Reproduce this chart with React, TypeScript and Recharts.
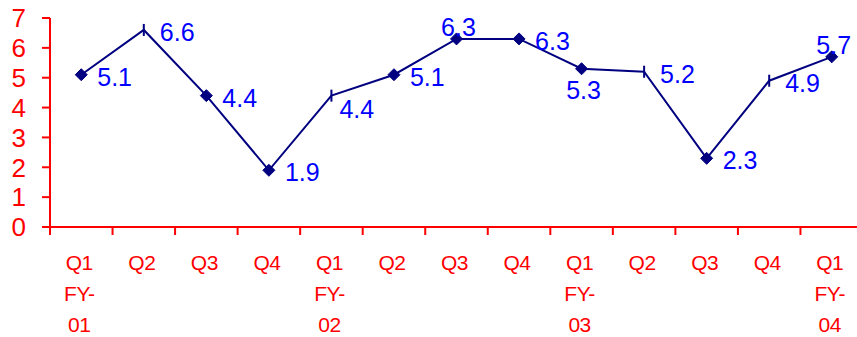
import React from "react";
import { LineChart, Line, XAxis, YAxis } from "recharts";

const quarters = ["Q1", "Q2", "Q3", "Q4", "Q1", "Q2", "Q3", "Q4", "Q1", "Q2", "Q3", "Q4", "Q1"];
const fiscalYears = ["01", "", "", "", "02", "", "", "", "03", "", "", "", "04"];
const values = [5.1, 6.6, 4.4, 1.9, 4.4, 5.1, 6.3, 6.3, 5.3, 5.2, 2.3, 4.9, 5.7];
const yTicks = [0, 1, 2, 3, 4, 5, 6, 7];

const data = quarters.map((q, i) => ({ q, fy: fiscalYears[i], value: values[i] }));

// points drawn with a short vertical dash instead of a diamond
const dashMarked = [1, 4, 9, 11];
// where each value label sits relative to its point
const labelPlacement = [
  "right", "right", "right", "right", "lowRight", "right", "above",
  "right", "below", "right", "right", "right", "above",
];

const RED = "#ff0000";
const NAVY = "#000080";
const BLUE = "#0000ff";
const FONT = "'Liberation Sans', Arial, sans-serif";

const CHART_W = 863;
const CHART_H = 337;
const LEFT = 50;
const BAND = (CHART_W - LEFT) / quarters.length;

const renderDot = (props: any) => {
  const { cx, cy, index } = props;
  if (dashMarked.includes(index)) {
    return <line key={`d${index}`} x1={cx} x2={cx} y1={cy - 6} y2={cy + 6} stroke={NAVY} strokeWidth={2} />;
  }
  const s = 6;
  return (
    <polygon
      key={`d${index}`}
      points={`${cx},${cy - s} ${cx + s},${cy} ${cx},${cy + s} ${cx - s},${cy}`}
      fill={NAVY}
      stroke={NAVY}
      strokeWidth={1}
    />
  );
};

const renderLabel = (props: any) => {
  const { x, y, value, index } = props;
  const place = labelPlacement[index];
  let tx = x + 16;
  let ty = y + 2;
  let anchor: "start" | "middle" = "start";
  if (place === "above") {
    tx = x + 2;
    ty = y - 12;
    anchor = "middle";
  } else if (place === "below") {
    tx = x + 2;
    ty = y + 21;
    anchor = "middle";
  } else if (place === "lowRight") {
    tx = x + 8;
    ty = y + 13;
  }
  return (
    <text
      key={`l${index}`}
      x={tx}
      y={ty}
      textAnchor={anchor}
      dominantBaseline="central"
      fill={BLUE}
      fontSize={25}
      fontFamily={FONT}
    >
      {value.toFixed(1)}
    </text>
  );
};

const QuarterTick = (props: any) => {
  const { x, y, payload, index } = props;
  const fy = fiscalYears[index];
  const lines = fy ? [payload.value, "FY-", fy] : [payload.value];
  const edge = x - BAND / 2;
  return (
    <g>
      <line x1={edge} x2={edge} y1={y} y2={y + 8} stroke={RED} strokeWidth={2} />
      {lines.map((t: string, i: number) => (
        <text
          key={i}
          x={x - 2}
          y={y + 35 + i * 31}
          textAnchor="middle"
          dominantBaseline="central"
          fill={RED}
          fontSize={21}
          letterSpacing={-0.5}
          fontFamily={FONT}
        >
          {t}
        </text>
      ))}
    </g>
  );
};

export default function App() {
  return (
    <div
      style={{
        position: "fixed",
        left: 0,
        top: 0,
        width: 857,
        height: 337,
        overflow: "hidden",
        background: "#fff",
      }}
    >
      <LineChart
        width={CHART_W}
        height={CHART_H}
        data={data}
        margin={{ top: 18, right: 0, bottom: 0, left: 0 }}
      >
        <XAxis
          dataKey="q"
          interval={0}
          height={110}
          padding={{ left: BAND / 2, right: BAND / 2 }}
          tickSize={0}
          tickMargin={0}
          tickLine={false}
          axisLine={{ stroke: RED, strokeWidth: 2 }}
          tick={<QuarterTick />}
        />
        <YAxis
          type="number"
          domain={[0, 7]}
          ticks={yTicks}
          interval={0}
          width={LEFT}
          tickSize={8}
          tickMargin={16}
          axisLine={{ stroke: RED, strokeWidth: 2 }}
          tickLine={{ stroke: RED, strokeWidth: 2 }}
          tick={{ fill: RED, fontSize: 26, fontFamily: FONT }}
        />
        <Line
          type="linear"
          dataKey="value"
          stroke={NAVY}
          strokeWidth={2}
          dot={renderDot}
          activeDot={false}
          label={renderLabel}
          isAnimationActive={false}
        />
      </LineChart>
    </div>
  );
}
